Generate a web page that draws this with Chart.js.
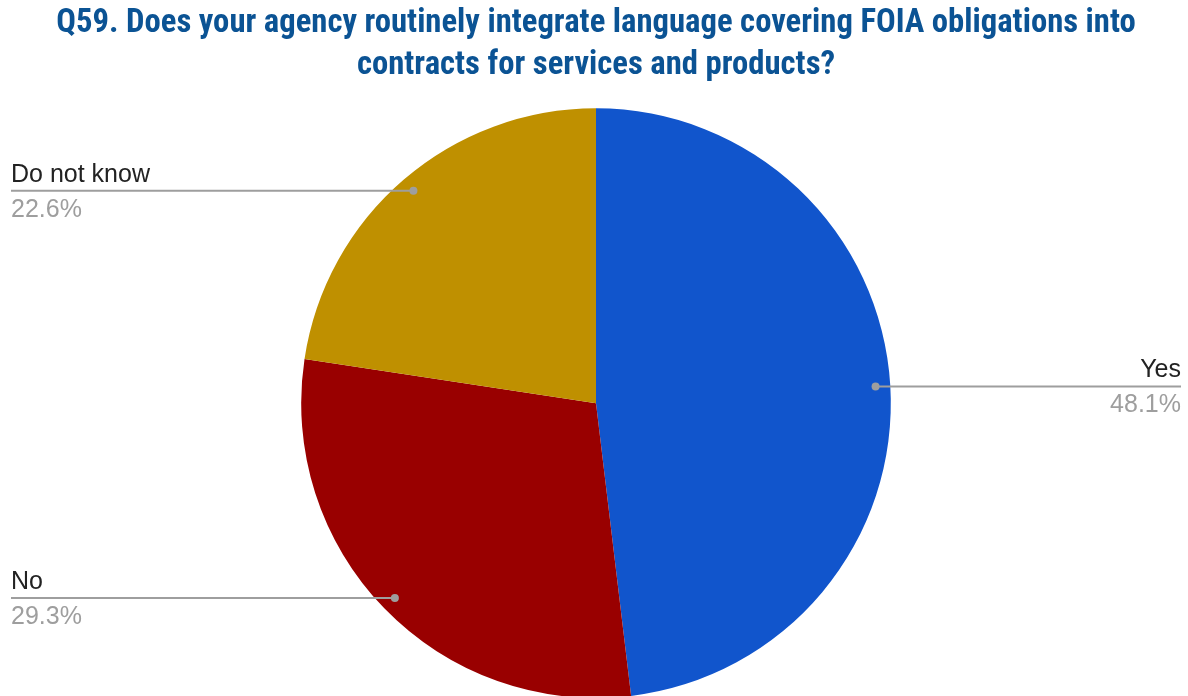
<!DOCTYPE html>
<html>
<head>
<meta charset="utf-8">
<script src="https://cdn.jsdelivr.net/npm/chart.js@4"></script>
<style>
  html, body { margin: 0; padding: 0; background: #fff; }
  #wrap { width: 1188px; height: 696px; overflow: hidden; position: relative; }
  #wrap canvas { display: block; }
</style>
</head>
<body>
<div id="wrap"><canvas id="chart" width="1188" height="710"></canvas></div>
<script>
const titleLines = [
  'Q59. Does your agency routinely integrate language covering FOIA obligations into',
  'contracts for services and products?'
]
const answers = ['Yes', 'No', 'Do not know']
const shares = [48.1, 29.3, 22.6]
const sliceColors = ['#1155cc', '#990000', '#bf9000']

// labels sit at the canvas edges, joined to each slice by a grey leader line
const leaderLabels = {
  id: 'leaderLabels',
  afterDatasetsDraw(chart) {
    const ctx = chart.ctx
    const meta = chart.getDatasetMeta(0)
    const leftEdge = 11
    const rightEdge = 1181
    meta.data.forEach((arc, i) => {
      const p = arc.getProps(['x', 'y', 'startAngle', 'endAngle', 'outerRadius'], true)
      const mid = (p.startAngle + p.endAngle) / 2
      const dx = p.x + Math.cos(mid) * p.outerRadius * 0.95
      const dy = p.y + Math.sin(mid) * p.outerRadius * 0.95
      const right = dx > p.x
      const endX = right ? rightEdge : leftEdge

      ctx.save()
      ctx.strokeStyle = '#9e9e9e'
      ctx.lineWidth = 2
      ctx.beginPath()
      ctx.moveTo(dx, dy)
      ctx.lineTo(endX, dy)
      ctx.stroke()
      ctx.fillStyle = '#9e9e9e'
      ctx.beginPath()
      ctx.arc(dx, dy, 4, 0, Math.PI * 2)
      ctx.fill()

      ctx.font = '25px "Liberation Sans", Arial, sans-serif'
      ctx.textAlign = right ? 'right' : 'left'
      ctx.textBaseline = 'alphabetic'
      ctx.fillStyle = '#222222'
      ctx.fillText(answers[i], endX, dy - 9)
      ctx.fillStyle = '#9e9e9e'
      ctx.fillText(shares[i].toFixed(1) + '%', endX, dy + 26)
      ctx.restore()
    })
  }
}

const ctx = document.getElementById('chart').getContext('2d')
const chart = new Chart(ctx, {
  type: 'pie',
  data: {
    labels: answers,
    datasets: [{
      data: shares,
      backgroundColor: sliceColors,
      borderWidth: 0
    }]
  },
  options: {
    responsive: false,
    animation: false,
    layout: { padding: { left: 4, right: 0, top: 0, bottom: 12 } },
    plugins: {
      legend: { display: false },
      tooltip: { enabled: false },
      title: {
        display: true,
        text: titleLines,
        color: '#0b5394',
        font: { family: '"Roboto Condensed", "Liberation Sans Narrow", "Liberation Sans", sans-serif', size: 32.7, weight: 'bold', lineHeight: 1.29 },
        padding: { top: 3, bottom: 21 }
      }
    }
  },
  plugins: [leaderLabels]
})
</script>
</body>
</html>
